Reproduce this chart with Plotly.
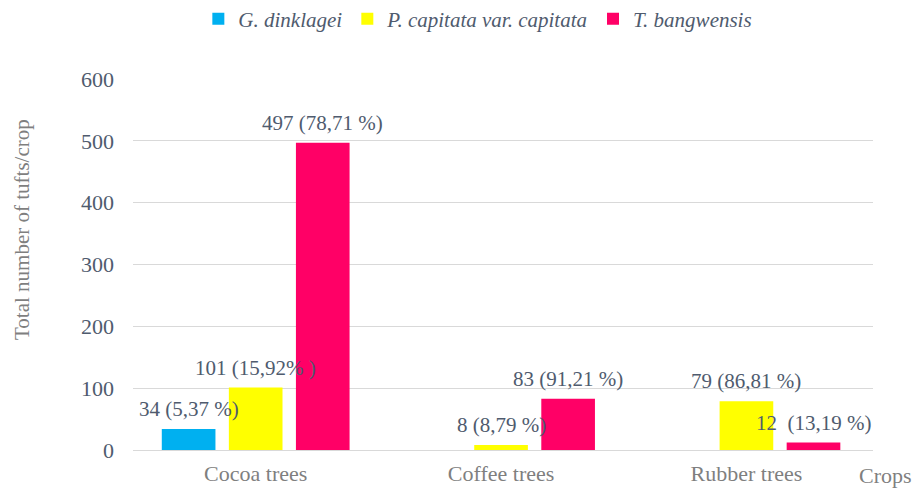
import plotly.graph_objects as go

categories = ["Cocoa trees", "Coffee trees", "Rubber trees"]
series_names = ["G. dinklagei", "P. capitata var. capitata", "T. bangwensis"]
g_dinklagei = [34, 0, 0]
p_capitata = [101, 8, 79]
t_bangwensis = [497, 83, 12]
g_labels = ["34 (5,37 %)", "", ""]
p_labels = ["101 (15,92% )", "8 (8,79 %)", "79 (86,81 %)"]
t_labels = ["497 (78,71 %)", "83 (91,21 %)", "12  (13,19 %)"]
colors = ["#00B0F0", "#FFFF00", "#FF0066"]
y_ticks = [0, 100, 200, 300, 400, 500, 600]

FONT = "Liberation Serif"
LABEL_COLOR = "#4F5B6E"
GRAY = "#7F7F7F"
BARGAP = 0.18

fig = go.Figure()
all_vals = [g_dinklagei, p_capitata, t_bangwensis]
all_labels = [g_labels, p_labels, t_labels]
for name, vals, col in zip(series_names, all_vals, colors):
    fig.add_trace(go.Bar(
        x=categories, y=vals, name=name, marker_color=col,
        marker_line_width=0,
    ))

# value labels above each bar (positions follow the grouped-bar layout)
slot = (1 - BARGAP) / len(series_names)
for si, (vals, labels) in enumerate(zip(all_vals, all_labels)):
    for ci, (v, lab) in enumerate(zip(vals, labels)):
        if not lab:
            continue
        fig.add_annotation(
            x=ci + (si - 1) * slot, y=v, xref="x", yref="y",
            text=lab, showarrow=False, xanchor="center", yanchor="middle",
            yshift=20, font=dict(family=FONT, size=21, color=LABEL_COLOR),
        )

fig.update_layout(
    width=913, height=480,
    margin=dict(l=125, r=48, t=71, b=38, autoexpand=False),
    paper_bgcolor="white", plot_bgcolor="white",
    barmode="group", bargap=BARGAP, bargroupgap=0.2,
    font=dict(family=FONT, color=LABEL_COLOR),
    legend=dict(
        orientation="h", x=0.466, xanchor="center",
        yref="container", y=0.977, yanchor="middle",
        font=dict(family=FONT, size=21, color=LABEL_COLOR, style="italic"),
        itemwidth=30, traceorder="normal",
    ),
    showlegend=True,
)
fig.update_yaxes(
    range=[0, 600], tickvals=y_ticks, showgrid=True, gridcolor="#D9D9D9",
    gridwidth=1, zeroline=False, showline=False, automargin=False,
    tickfont=dict(family=FONT, size=22, color=LABEL_COLOR),
    ticklabelstandoff=18,
)
fig.update_xaxes(
    showline=True, linecolor="#D9D9D9", linewidth=1, automargin=False,
    tickfont=dict(family=FONT, size=22, color=GRAY),
    ticklabelstandoff=4,
)
fig.add_annotation(
    text="Total number of tufts/crop", xref="paper", yref="paper",
    x=0, y=0.593, xanchor="center", yanchor="middle", xshift=-111,
    textangle=-90, showarrow=False,
    font=dict(family=FONT, size=21, color=GRAY),
)
fig.add_annotation(
    text="Crops", xref="paper", yref="paper", x=1.0, y=0, xanchor="left", yanchor="middle",
    xshift=-16, yshift=-25, showarrow=False,
    font=dict(family=FONT, size=22, color=GRAY),
)

fig.write_html("out.html")
